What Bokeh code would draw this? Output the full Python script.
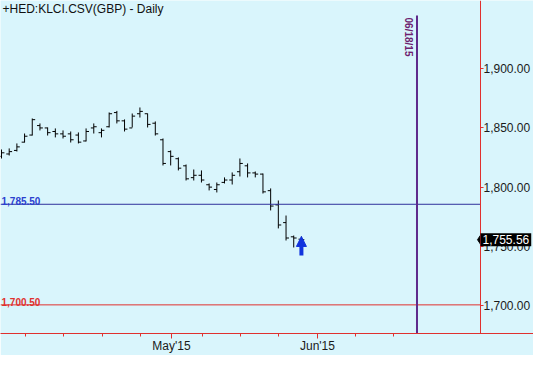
from bokeh.plotting import figure
from bokeh.models import (Range1d, FixedTicker, NumeralTickFormatter, Label, LinearAxis,
                          Arrow, NormalHead, ColumnDataSource)
from bokeh.embed import file_html
from bokeh.resources import INLINE

# ---------------- data ----------------
title_text = "+HED:KLCI.CSV(GBP) - Daily"

opens = [1826, 1828, 1831, 1838, 1844, 1852, 1850, 1847, 1845, 1845,
         1844, 1839, 1850, 1846, 1851, 1863, 1856, 1850, 1862, 1862,
         1854, 1840, 1830, 1824, 1818, 1808, 1810, 1802, 1798, 1804,
         1806, 1813, 1818, 1812, 1811, 1797, 1785, 1770, 1758, 1756]
highs = [1831.8, 1832.7, 1836.9, 1845.3, 1858.0, 1853.8, 1850.4, 1849.6, 1847.9, 1847.0,
         1846.2, 1849.6, 1853.8, 1849.6, 1863.1, 1864.4, 1857.2, 1862.2, 1867.3, 1862.2,
         1855.5, 1841.1, 1831.0, 1825.1, 1819.1, 1814.9, 1814.1, 1803.1, 1803.9, 1808.2,
         1812.4, 1824.2, 1820.0, 1813.2, 1811.5, 1798.9, 1788.7, 1776.0, 1759.1, 1758.3]
lows = [1824.2, 1826.7, 1830.1, 1837.7, 1843.6, 1847.9, 1843.6, 1842.0, 1841.1, 1837.7,
        1836.9, 1838.6, 1845.3, 1842.0, 1850.4, 1853.8, 1847.0, 1850.4, 1858.8, 1850.4,
        1843.6, 1818.3, 1818.3, 1814.1, 1805.6, 1805.6, 1803.9, 1797.2, 1795.5, 1803.1,
        1802.2, 1809.0, 1808.2, 1808.2, 1794.6, 1780.3, 1765.1, 1754.9, 1749.0, 1754.1]
closes = [1829, 1830, 1834, 1843, 1857, 1850, 1846, 1845, 1843, 1840,
          1838, 1847, 1851, 1848, 1862, 1856, 1849, 1860, 1864, 1853,
          1845, 1820, 1826, 1816, 1807, 1810, 1806, 1800, 1802, 1806,
          1810, 1820, 1812, 1811, 1796, 1784, 1768, 1757, 1757, 1755.56]
bar_x = list(range(len(opens)))

week_ticks = [3.12, 8.06, 13.13, 18.08, 26.14, 31.08, 36.02, 46.03, 50.98]
month_ticks = [22.11, 41.09]
month_labels = ["May'15", "Jun'15"]
price_ticks = [1700, 1750, 1800, 1850, 1900]

level_blue = 1785.50
level_red = 1700.50
last_price = 1755.56
event_x = 54.03
event_label = "06/18/15"
event_top = 1945.0
arrow_x = 39
arrow_from = 1742.2
arrow_to = 1758.3

x_lo, x_hi = -0.13, 69.18
price_axis_x = 62.29          # where the price scale sits (bar-index units)
y_lo, y_hi = 1676.3, 1957.7

# ---------------- styles ----------------
BG = "#D9F5FC"
RED = "#E0302E"
FONT = "Liberation Sans"

p = figure(frame_width=533, frame_height=333, output_backend="svg", toolbar_location=None,
           x_range=Range1d(x_lo, x_hi), y_range=Range1d(y_lo, y_hi),
           y_axis_location=None,
           min_border_left=0, min_border_top=0, min_border_right=0, min_border_bottom=0)
p.background_fill_color = BG
p.border_fill_color = BG
p.outline_line_color = None
p.grid.visible = False

# x axis
xa = p.xaxis[0]
xa.ticker = FixedTicker(ticks=month_ticks, minor_ticks=week_ticks)
xa.major_label_overrides = {t: l for t, l in zip(month_ticks, month_labels)}
xa.axis_line_color = RED
xa.major_tick_line_color = RED
xa.minor_tick_line_color = RED
xa.major_tick_out = 5
xa.major_tick_in = 0
xa.minor_tick_out = 3
xa.minor_tick_in = 0
xa.major_label_standoff = 0
xa.major_label_text_font = FONT
xa.major_label_text_font_size = "12px"
xa.major_label_text_color = "#1a1a1a"

# price axis on the right, fixed at its place inside the frame
ya = LinearAxis(fixed_location=price_axis_x, ticker=FixedTicker(ticks=price_ticks),
                formatter=NumeralTickFormatter(format="0,0.00"))
ya.axis_line_color = RED
ya.axis_line_width = 1
ya.major_tick_line_color = RED
ya.minor_tick_line_color = None
ya.major_tick_out = 3
ya.major_tick_in = 0
ya.major_label_standoff = 0
ya.major_label_text_font = FONT
ya.major_label_text_font_size = "12px"
ya.major_label_text_color = "#1a1a1a"
p.add_layout(ya, "right")

# OHLC bars
tick_w = 0.38
src = ColumnDataSource(dict(
    x=bar_x, o=opens, h=highs, l=lows, c=closes,
    xl=[x - tick_w for x in bar_x], xr=[x + tick_w for x in bar_x]))
p.segment(x0="x", y0="l", x1="x", y1="h", source=src, line_color="black", line_width=1)
p.segment(x0="xl", y0="o", x1="x", y1="o", source=src, line_color="black", line_width=1)
p.segment(x0="x", y0="c", x1="xr", y1="c", source=src, line_color="black", line_width=1)

# horizontal levels (up to the price scale)
p.segment(x0=[x_lo], y0=[level_blue], x1=[price_axis_x], y1=[level_blue], line_color="#30309A", line_width=1)
p.segment(x0=[x_lo], y0=[level_red], x1=[price_axis_x], y1=[level_red], line_color=RED, line_width=1)
p.add_layout(Label(x=x_lo, y=level_blue, x_offset=1, y_offset=3, text=f"{level_blue:,.2f}",
                   text_font=FONT, text_font_size="10px", text_font_style="bold",
                   text_color="#2B3FCF", text_baseline="alphabetic"))
p.add_layout(Label(x=x_lo, y=level_red, x_offset=1, y_offset=3, text=f"{level_red:,.2f}",
                   text_font=FONT, text_font_size="10px", text_font_style="bold",
                   text_color=RED, text_baseline="alphabetic"))

# event vertical line
p.segment(x0=[event_x], y0=[event_top], x1=[event_x], y1=[y_lo], line_color="#5E2A8C", line_width=2)
p.add_layout(Label(x=event_x, y=event_top, x_offset=-3, y_offset=-2, text=event_label,
                   angle=-1.5708, text_align="left", text_baseline="top",
                   text_font=FONT, text_font_size="10px", text_font_style="bold",
                   text_color="#6E1F70"))

# arrow
p.add_layout(Arrow(end=NormalHead(size=10, fill_color="#1133DD", line_color="#1133DD"),
                   x_start=arrow_x, y_start=arrow_from, x_end=arrow_x, y_end=arrow_to,
                   line_color="#1133DD", line_width=4))

# title
p.add_layout(Label(x=x_lo, y=y_hi, x_offset=2, y_offset=-1, text=title_text,
                   text_font=FONT, text_font_size="12px", text_color="#111111",
                   text_baseline="top"))

# last price box with its left-pointing notch
p.scatter(x=[price_axis_x], y=[last_price], marker="diamond", size=9,
          fill_color="black", line_color="black")
p.add_layout(Label(x=price_axis_x, y=last_price, x_offset=0, text=f"{last_price:,.2f}",
                   text_font=FONT, text_font_size="12px", text_color="white",
                   background_fill_color="black", text_baseline="middle", padding=2))

open("out.html", "w").write(file_html(p, INLINE))
